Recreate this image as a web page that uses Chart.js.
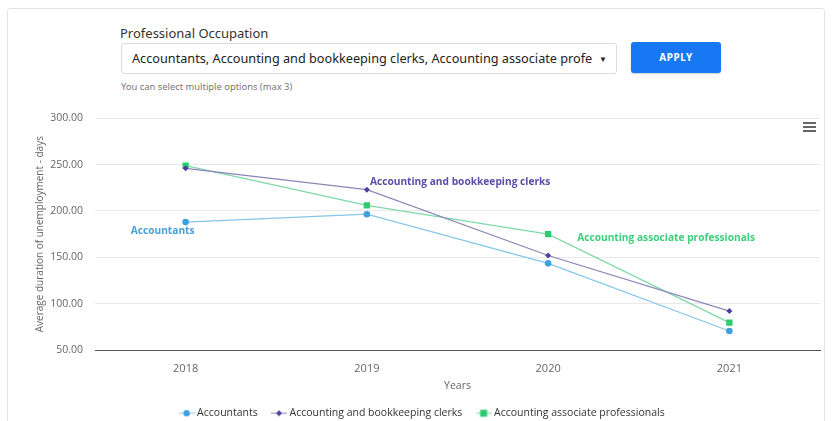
<!DOCTYPE html>
<html>
<head>
<meta charset="utf-8">
<script src="https://cdn.jsdelivr.net/npm/chart.js@4.4.1/dist/chart.umd.min.js"></script>
<style>
  html, body { margin:0; padding:0; background:#fff; width:832px; height:421px; overflow:hidden; }
  body { position:relative; font-family:"Noto Sans", sans-serif; }
  .card { position:absolute; left:7px; top:8px; width:818px; height:420px; border:1px solid #e4e4e4; border-radius:3px; box-sizing:border-box; }
  .lbl { position:absolute; left:120px; top:24px; font-size:13px; color:#333; }
  .sel { position:absolute; left:121px; top:43px; width:496px; height:31px; border:1px solid #dcdcdc; border-radius:3px; box-sizing:border-box; font-size:12.7px; color:#222; line-height:29px; padding-left:10px; white-space:nowrap; overflow:hidden; }
  .sel .arr { position:absolute; right:9px; top:0; font-size:8px; color:#222; }
  .btn { position:absolute; left:631px; top:42px; width:90px; height:31px; background:#1877f2; border-radius:3px; color:#fff; font-weight:bold; font-size:10px; text-align:center; line-height:31px; letter-spacing:0.5px; box-shadow:0 1px 2px rgba(0,0,0,0.2); }
  .help { position:absolute; left:121px; top:80px; font-size:9.4px; color:#777; }
  .menu { position:absolute; left:803px; top:122px; width:13px; }
  .menu div { height:2px; background:#666; margin-bottom:2px; }
  #wrap { position:absolute; left:0; top:100px; width:832px; height:321px; }
</style>
</head>
<body>
<div class="card"></div>
<div class="lbl">Professional Occupation</div>
<div class="sel">Accountants, Accounting and bookkeeping clerks, Accounting associate profe<span class="arr">&#9660;</span></div>
<div class="btn">APPLY</div>
<div class="help">You can select multiple options (max 3)</div>
<div id="wrap"><canvas id="c"></canvas></div>
<div class="menu"><div></div><div></div><div></div></div>
<script>
const categories = ["2018", "2019", "2020", "2021"];
const accountants = [188, 196.5, 143.5, 70.5];
const clerks = [246, 223, 152, 92];
const associates = [249, 206, 175, 79.5];
const seriesNames = ["Accountants", "Accounting and bookkeeping clerks", "Accounting associate professionals"];
const yTicks = [50, 100, 150, 200, 250, 300];

function legendIcon(style, color, lineColor) {
  const cv = document.createElement('canvas');
  cv.width = 16; cv.height = 10;
  const g = cv.getContext('2d');
  g.strokeStyle = lineColor; g.lineWidth = 1;
  g.beginPath(); g.moveTo(0, 5); g.lineTo(16, 5); g.stroke();
  g.fillStyle = color;
  g.beginPath();
  if (style === 'circle') { g.arc(8, 5, 3.2, 0, Math.PI * 2); }
  else if (style === 'rectRot') { g.moveTo(8, 2); g.lineTo(11, 5); g.lineTo(8, 8); g.lineTo(5, 5); g.closePath(); }
  else { g.rect(4.5, 1.5, 7, 7); }
  g.fill();
  return cv;
}

const cols = [
  { m: '#3fa0e0', l: '#86c6ea', t: '#4a9fd6', ps: 'circle', r: 3.3 },
  { m: '#4b3fa0', l: '#8d85b9', t: '#5a4ea8', ps: 'rectRot', r: 3 },
  { m: '#2ecc71', l: '#7fd9a6', t: '#3ccf7c', ps: 'rect', r: 4.5 }
];
const dataArr = [accountants, clerks, associates];

const labelSpots = [
  { idx: 0, dx: -23, dy: 9, align: 'center' },
  { idx: 1, dx: 3, dy: -8, align: 'left' },
  { idx: 2, dx: 29, dy: 4, align: 'left' }
];

const labelPlugin = {
  id: 'seriesLabels',
  beforeUpdate(chart) {
    const lg = chart.legend;
    if (lg && !lg._patched) {
      const f = lg.fit;
      lg.fit = function () { f.call(this); this.height = 29; };
      lg._patched = true;
    }
  },
  afterLayout(chart) {
    const lg = chart.legend;
    if (lg) { lg.left += 13; lg.right += 13; }
  },
  afterDatasetsDraw(chart) {
    const ctx = chart.ctx;
    ctx.save();
    ctx.font = 'bold 10.2px "Open Sans", sans-serif';
    ctx.textBaseline = 'middle';
    labelSpots.forEach((s, i) => {
      const pt = chart.getDatasetMeta(i).data[s.idx];
      ctx.fillStyle = cols[i].t;
      ctx.textAlign = s.align;
      ctx.fillText(seriesNames[i], pt.x + s.dx, pt.y + s.dy);
    });
    ctx.restore();
  }
};

const datasets = dataArr.map((d, i) => ({
  label: seriesNames[i],
  data: d,
  borderColor: cols[i].l,
  backgroundColor: cols[i].m,
  pointBackgroundColor: cols[i].m,
  pointBorderColor: cols[i].m,
  pointBorderWidth: 0,
  pointStyle: cols[i].ps,
  pointRadius: cols[i].r,
  borderWidth: 1.2,
  tension: 0,
  legendIcon: legendIcon(cols[i].ps, cols[i].m, cols[i].l)
}));

new Chart(document.getElementById('c'), {
  type: 'line',
  data: { labels: categories, datasets },
  options: {
    responsive: true,
    maintainAspectRatio: false,
    animation: false,
    layout: { padding: { left: 0, right: 12, top: 13, bottom: 0 } },
    plugins: {
      tooltip: { enabled: false },
      legend: {
        position: 'bottom',
        labels: {
          usePointStyle: true,
          color: '#333',
          font: { family: '"Open Sans", sans-serif', size: 10.5 },
          padding: 16,
          generateLabels(chart) {
            return chart.data.datasets.map((ds, i) => ({
              text: ds.label,
              pointStyle: ds.legendIcon,
              fillStyle: ds.backgroundColor,
              strokeStyle: ds.backgroundColor,
              lineWidth: 0,
              datasetIndex: i,
              fontColor: '#333'
            }));
          }
        }
      }
    },
    scales: {
      x: {
        offset: true,
        grid: { display: false, drawTicks: false },
        border: { display: true, color: '#555', width: 1 },
        ticks: { color: '#666', font: { family: '"Open Sans", sans-serif', size: 11 }, padding: 12 },
        title: { display: true, text: 'Years', color: '#666', font: { family: '"Open Sans", sans-serif', size: 10.5 }, padding: { top: 2, bottom: 0 } },
        afterFit(scale) { scale.height = 42; }
      },
      y: {
        min: 50, max: 300,
        afterBuildTicks(scale) { scale.ticks = yTicks.map(v => ({ value: v })); },
        grid: { color: '#e9e9e9', drawTicks: false },
        border: { display: false },
        ticks: {
          color: '#666',
          font: { family: '"Open Sans", sans-serif', size: 10.5 },
          padding: 12,
          callback: v => Number(v).toFixed(2)
        },
        title: { display: true, text: 'Average duration of unemployment - days', color: '#666', font: { family: '"Open Sans", sans-serif', size: 10 }, padding: { top: 34, bottom: 0 } },
        afterFit(scale) { scale.width = 95; }
      }
    }
  },
  plugins: [labelPlugin]
});
</script>
</body>
</html>
